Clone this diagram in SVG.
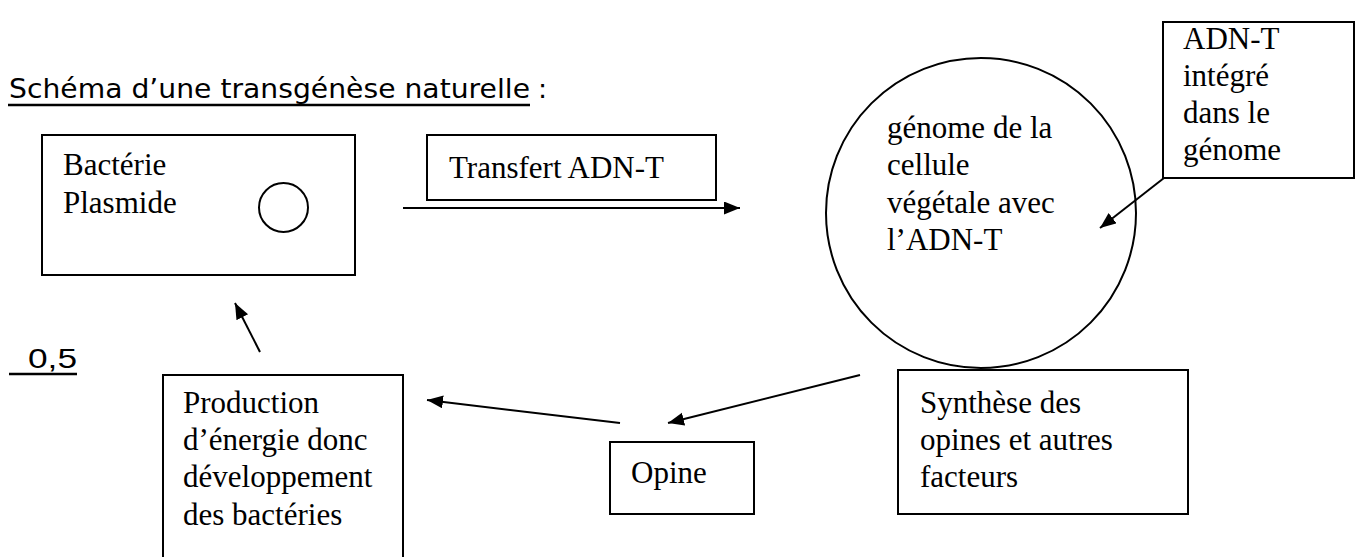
<svg xmlns="http://www.w3.org/2000/svg" width="1361" height="557" viewBox="0 0 1361 557">
<style>
.box{fill:#fff;stroke:#000;stroke-width:2}
.t{font-family:"Liberation Serif","Times New Roman",serif;font-size:31px;fill:#000}
.ttl{font-family:"DejaVu Sans","Liberation Sans",sans-serif;font-size:27px;fill:#000}
.con{stroke:#000;stroke-width:2;fill:none;marker-end:url(#ah)}
</style>
<defs>
<marker id="ah" markerUnits="userSpaceOnUse" markerWidth="17" markerHeight="14" refX="16" refY="6.5" orient="auto">
<path d="M0,0 L16,6.5 L0,13 z" fill="#000"/>
</marker>
</defs>
<rect width="1361" height="557" fill="#fff"/>
<g id="title">
<text class="ttl" x="9" y="98" textLength="521" lengthAdjust="spacingAndGlyphs">Schéma d’une transgénèse naturelle</text>
<line x1="8" y1="105" x2="530" y2="105" stroke="#000" stroke-width="2.5"/>
<text class="ttl" x="538" y="98"> :</text>
</g>
<g id="note">
<text x="28" y="368" font-family="Liberation Sans, Arial, sans-serif" font-size="28" textLength="49" lengthAdjust="spacingAndGlyphs">0,5</text>
<line x1="9" y1="374" x2="77" y2="374" stroke="#000" stroke-width="2.5"/>
</g>
<g id="bacterie">
<rect class="box" x="42" y="135" width="313" height="140"/>
<text class="t" x="63" y="175">Bactérie</text>
<text class="t" x="63" y="213">Plasmide</text>
<circle cx="283.5" cy="207.5" r="24.5" fill="none" stroke="#000" stroke-width="2"/>
</g>
<g id="transfert">
<rect class="box" x="427" y="135" width="289" height="65"/>
<text class="t" x="449" y="178">Transfert ADN-T</text>
</g>
<g id="genome">
<circle cx="981" cy="213" r="155" fill="#fff" stroke="#000" stroke-width="2"/>
<text class="t" x="887" y="138">génome de la</text>
<text class="t" x="887" y="175">cellule</text>
<text class="t" x="887" y="213">végétale avec</text>
<text class="t" x="887" y="250">l’ADN-T</text>
</g>
<g id="adnt">
<rect class="box" x="1163" y="22" width="191" height="156"/>
<text class="t" x="1183" y="49">ADN-T</text>
<text class="t" x="1183" y="86">intégré</text>
<text class="t" x="1183" y="123">dans le</text>
<text class="t" x="1183" y="160">génome</text>
</g>
<g id="synthese">
<rect class="box" x="898" y="370" width="290" height="144"/>
<text class="t" x="920" y="413">Synthèse des</text>
<text class="t" x="920" y="450">opines et autres</text>
<text class="t" x="920" y="487">facteurs</text>
</g>
<g id="opine">
<rect class="box" x="610" y="442" width="144" height="72"/>
<text class="t" x="631" y="483">Opine</text>
</g>
<g id="production">
<path d="M163,560 L163,375 L403,375 L403,560" fill="#fff" stroke="#000" stroke-width="2"/>
<text class="t" x="183" y="413">Production</text>
<text class="t" x="183" y="450">d’énergie donc</text>
<text class="t" x="183" y="487">développement</text>
<text class="t" x="183" y="525">des bactéries</text>
</g>
<g id="connectors">
<line class="con" x1="403" y1="208" x2="740" y2="208"/>
<line class="con" x1="1164" y1="178" x2="1100" y2="228"/>
<line class="con" x1="860" y1="375" x2="668" y2="423"/>
<line class="con" x1="620" y1="423" x2="427" y2="400"/>
<line class="con" x1="260" y1="352" x2="235" y2="303"/>
</g>
</svg>
